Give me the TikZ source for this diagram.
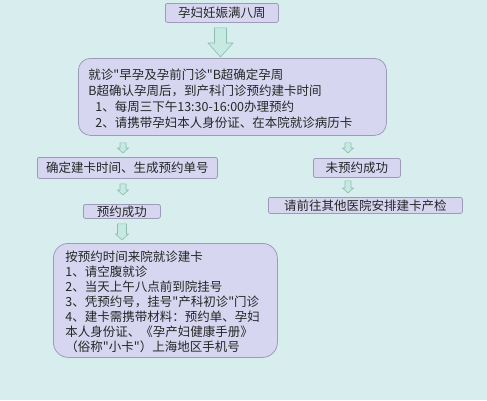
\documentclass[tikz,border=0pt]{standalone}
\usepackage{fontspec}
\setmainfont{Noto Sans CJK SC}[Ligatures=TeXOff]
\usetikzlibrary{calc}
\definecolor{bg}{HTML}{D8EEEE}
\definecolor{boxfill}{HTML}{D6D6F0}
\definecolor{boxline}{HTML}{9C9CB8}
\definecolor{arrfill}{HTML}{C6EAE2}
\definecolor{arrline}{HTML}{8DBBAE}
% #1 x, #2 from node, #3 to node, #4 top gap, #5 bottom gap, #6 shaft half, #7 head half, #8 head length
\newcommand\blockconn[8]{%
 \path[arr] let \p1=(#2.south), \p2=(#3.north) in
  (#1pt-#6pt,\y1-#4pt) -- (#1pt+#6pt,\y1-#4pt) -- (#1pt+#6pt,\y2+#5pt+#8pt)
  -- (#1pt+#7pt,\y2+#5pt+#8pt) -- (#1pt,\y2+#5pt) -- (#1pt-#7pt,\y2+#5pt+#8pt)
  -- (#1pt-#6pt,\y2+#5pt+#8pt) -- cycle;}
\begin{document}
\begin{tikzpicture}[x=1pt,y=-1pt,
 every node/.style={font=\fontsize{12.5}{15}\selectfont, text=black!85},
 sbox/.style={draw=boxline, fill=boxfill, line width=0.8pt, rounded corners=2pt, inner sep=0pt, anchor=north west},
 lbox/.style={draw=boxline, fill=boxfill, line width=0.8pt, rounded corners=12pt, anchor=north west, align=left, inner ysep=0pt},
 arr/.style={draw=arrline, fill=arrfill, line width=0.6pt}]
\fill[bg] (0,0) rectangle (487,400);
\useasboundingbox (0,0) rectangle (487,400);

\node[sbox, minimum width=113pt, minimum height=19pt] (s1) at (165,3) {孕妇妊娠满八周};

\node[lbox, inner xsep=10pt, text width=288pt, minimum height=77pt, font=\fontsize{12.5}{16}\selectfont] (s2) at (78,58)
 {\rule{0pt}{14pt}就诊"早孕及孕前门诊"B超确定孕周\\
  B超确认孕周后，到产科门诊预约建卡时间\\
  \hspace*{7pt}1、每周三下午13:30-16:00办理预约\\
  \hspace*{7pt}2、请携带孕妇本人身份证、在本院就诊病历卡};

\node[sbox, minimum width=180pt, minimum height=21pt] (l1) at (37,157) {确定建卡时间、生成预约单号};
\node[sbox, minimum width=77pt, minimum height=14pt] (l2) at (83,204) {预约成功};
\node[sbox, minimum width=87pt, minimum height=19pt] (r1) at (313,158) {未预约成功};
\node[sbox, minimum width=194pt, minimum height=16pt] (r2) at (268,197) {请前往其他医院安排建卡产检};

\node[lbox, rounded corners=15pt, inner xsep=12pt, text width=200pt, minimum height=114pt] (s4) at (53,243)
 {\rule{0pt}{13pt}按预约时间来院就诊建卡\\
  1、请空腹就诊\\
  2、当天上午八点前到院挂号\\
  3、凭预约号，挂号"产科初诊"门诊\\
  4、建卡需携带材料：预约单、孕妇\\
  本人身份证、《孕产妇健康手册》\\
  （俗称"小卡"）上海地区手机号};

\blockconn{220.5}{s1}{s2}{5}{1}{6}{12.5}{14}
\blockconn{123}{s2}{l1}{7}{4}{3}{5.5}{5}
\blockconn{348}{s2}{r1}{7}{5}{3}{5.5}{5}
\blockconn{123}{l1}{l2}{5}{9}{3}{5.5}{5}
\blockconn{348}{r1}{r2}{3}{4}{3}{5.5}{5}
\blockconn{122}{l2}{s4}{5}{3}{4.5}{6.5}{6}
\end{tikzpicture}
\end{document}
